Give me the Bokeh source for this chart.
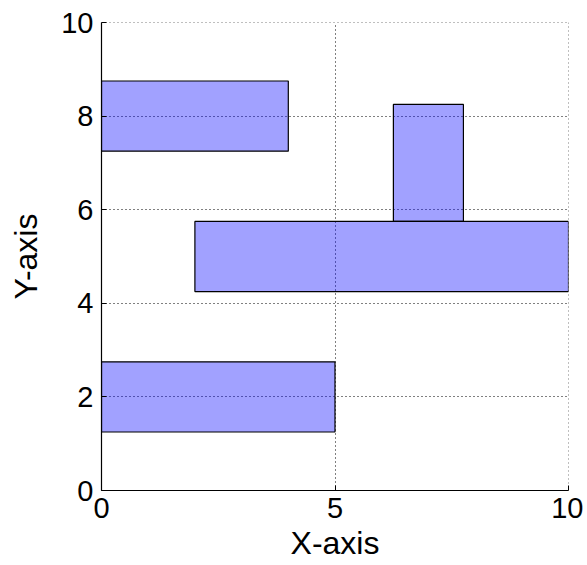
from bokeh.plotting import figure
from bokeh.models import FixedTicker, Range1d, Span
from bokeh.embed import file_html
from bokeh.resources import INLINE

x_left = [0, 6.25, 2, 0]
x_right = [4, 7.75, 10, 5]
y_bottom = [7.25, 5.75, 4.25, 1.25]
y_top = [8.75, 8.25, 5.75, 2.75]
x_ticks = [0, 5, 10]
y_ticks = [0, 2, 4, 6, 8, 10]

p = figure(width=583, height=563, output_backend="svg", toolbar_location=None,
           x_range=Range1d(0, 10), y_range=Range1d(0, 10),
           min_border_left=101, min_border_right=15, min_border_top=22, min_border_bottom=73)
p.outline_line_color = None
p.background_fill_color = "white"

p.quad(left=x_left, right=x_right, bottom=y_bottom, top=y_top,
       fill_color="blue", fill_alpha=0.37, line_color="black", line_width=1.2)

for ax, ticks, label in ((p.xaxis[0], x_ticks, "X-axis"), (p.yaxis[0], y_ticks, "Y-axis")):
    ax.ticker = FixedTicker(ticks=ticks)
    ax.axis_label = label
    ax.axis_label_text_font = "Liberation Sans"
    ax.axis_label_text_font_style = "normal"
    ax.axis_label_text_font_size = "32px"
    ax.axis_label_text_color = "black"
    ax.major_label_text_font = "Liberation Sans"
    ax.major_label_text_font_size = "29px"
    ax.major_label_text_color = "black"
    ax.axis_line_color = "black"
    ax.axis_line_width = 1.2
    ax.major_tick_in = 5
    ax.major_tick_out = 0
    ax.major_tick_line_color = "black"
    ax.minor_tick_line_color = None

p.xaxis[0].major_label_standoff = 7
p.xaxis[0].axis_label_standoff = 4
p.yaxis[0].major_label_standoff = 8
p.yaxis[0].axis_label_standoff = 14

for g in (p.xgrid[0], p.ygrid[0]):
    g.grid_line_color = "black"
    g.grid_line_dash = "1 3"
    g.grid_line_alpha = 1.0
    g.grid_line_width = 1

p.xgrid[0].ticker = FixedTicker(ticks=x_ticks)
p.ygrid[0].ticker = FixedTicker(ticks=y_ticks)

# grid lines at the upper range ends (Bokeh's grid skips range boundaries)
p.add_layout(Span(location=x_ticks[-1], dimension="height", line_color="black",
                  line_dash="1 3", line_width=1))
p.add_layout(Span(location=y_ticks[-1], dimension="width", line_color="black",
                  line_dash="1 3", line_width=1))

open("out.html", "w").write(file_html(p, INLINE))
